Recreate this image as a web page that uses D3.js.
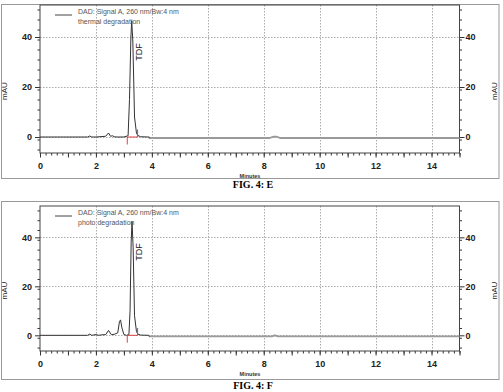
<!DOCTYPE html>
<html><head><meta charset="utf-8">
<script src="https://cdn.jsdelivr.net/npm/d3@7"></script>
<style>body{margin:0;background:#fff;}svg{display:block;}</style>
</head><body>
<svg id="chart" width="503" height="392"></svg>
<script>
// ---- data ----
const xTicks = [0, 2, 4, 6, 8, 10, 12, 14];
const yTicks = [0, 20, 40];
const xDomain = [0, 15];
const yDomain = [-6.4, 52.8];

const timesE = [0, 1.7, 1.78, 1.85, 2.0, 2.35, 2.45, 2.52, 2.6, 2.65, 2.75, 3.0, 3.15, 3.2, 3.25, 3.28, 3.32, 3.38, 3.45, 3.5, 3.6, 3.88, 3.92, 8.2, 8.35, 8.45, 8.6, 15];
const valuesE = [0, 0, 0.4, 0, 0, 0.3, 1.6, 0.3, 0.5, 0.1, 0, 0, 0.5, 15, 40, 46.5, 38, 8, 1.5, 0.6, 0.1, 0, -0.4, -0.4, 0.1, 0.1, -0.4, -0.4];

const timesF = [0, 1.7, 1.78, 1.85, 2.0, 2.1, 2.2, 2.35, 2.45, 2.55, 2.65, 2.78, 2.84, 2.88, 2.93, 3.0, 3.1, 3.18, 3.22, 3.26, 3.29, 3.33, 3.38, 3.45, 3.5, 3.6, 3.88, 3.92, 8.3, 8.4, 8.5, 15];
const valuesF = [0, 0, 0.5, 0, 0.3, 0, 0.2, 0.3, 2.0, 0.3, 0.4, 1.0, 5.5, 6.3, 3, 0.3, 0, 0.3, 10, 38, 46.5, 36, 8, 1.5, 0.5, 0.1, 0, -0.4, -0.4, 0, -0.4, -0.4];

const peakLabel = "TDF";
const peakTime = 3.28;
const peakLabelValue = 34;
const integStart = 3.12, integEnd = 3.49;
const legendTitle = "DAD: Signal A, 260 nm/Bw:4 nm";
const panelNames = ["thermal degradation", "photo degradation"];
const figCaptions = ["FIG. 4: E", "FIG. 4: F"];

// ---- drawing ----
const svg = d3.select("#chart");

function drawPanel(cfg) {
  const g = svg.append("g");
  // outer border
  g.append("rect").attr("x", 1.5).attr("y", cfg.boxTop + 0.5)
    .attr("width", 497.5).attr("height", cfg.boxBottom - cfg.boxTop)
    .attr("fill", "none").attr("stroke", "#999").attr("stroke-width", 1);

  const x = d3.scaleLinear().domain(xDomain).range([40, 459.5]);
  const y = d3.scaleLinear().domain(yDomain).range([cfg.plotBottom, cfg.plotTop]);

  // grid
  g.append("g").selectAll("line").data(xTicks.filter(d => d > 0)).join("line")
    .attr("x1", d => Math.round(x(d)) + 0.5).attr("x2", d => Math.round(x(d)) + 0.5)
    .attr("y1", cfg.plotTop).attr("y2", cfg.plotBottom)
    .attr("stroke", "#aaa").attr("stroke-dasharray", "1.5,1.5");
  g.append("g").selectAll("line").data(yTicks).join("line")
    .attr("x1", x(0)).attr("x2", x(15))
    .attr("y1", d => Math.round(y(d)) + 0.5).attr("y2", d => Math.round(y(d)) + 0.5)
    .attr("stroke", "#aaa").attr("stroke-dasharray", "1.5,1.5");

  // axes
  const minorX = d3.range(0, 15.01, 0.2);
  const minorY = d3.range(-5, 52.8, 4);
  const bottom = g.append("g").attr("transform", `translate(0,${cfg.plotBottom})`);
  bottom.call(d3.axisBottom(x).tickValues(minorX).tickSize(2.5).tickFormat(""));
  bottom.append("g").call(d3.axisBottom(x).tickValues(d3.range(0, 15.01, 1)).tickSize(4.5).tickFormat(d => xTicks.includes(d) ? d : ""));
  bottom.selectAll(".domain").remove();
  bottom.selectAll("text").attr("font-family", "Arial, Liberation Sans, sans-serif")
    .attr("font-size", 9).attr("font-weight", "bold").attr("fill", "#222").attr("dy", "0.95em");

  const left = g.append("g").attr("transform", `translate(40,0)`);
  left.call(d3.axisLeft(y).tickValues(minorY).tickSize(2.5).tickFormat(""));
  left.append("g").call(d3.axisLeft(y).tickValues(yTicks).tickSize(5).tickFormat(d3.format("d")));
  left.selectAll(".domain").remove();
  left.selectAll("text").attr("font-family", "Arial, Liberation Sans, sans-serif")
    .attr("font-size", 9).attr("font-weight", "bold").attr("fill", "#222").attr("x", -8);

  const right = g.append("g").attr("transform", `translate(459.5,0)`);
  right.call(d3.axisRight(y).tickValues(minorY).tickSize(2.5).tickFormat(""));
  right.append("g").call(d3.axisRight(y).tickValues(yTicks).tickSize(5).tickFormat(d3.format("d")));
  right.selectAll(".domain").remove();
  right.selectAll("text").attr("font-family", "Arial, Liberation Sans, sans-serif")
    .attr("font-size", 9).attr("font-weight", "bold").attr("fill", "#222").attr("x", 6);
  g.selectAll(".tick line").attr("stroke", "#333");

  // frame
  g.append("rect").attr("x", 40).attr("y", cfg.plotTop)
    .attr("width", 419.5).attr("height", cfg.plotBottom - cfg.plotTop)
    .attr("fill", "none").attr("stroke", "#444").attr("stroke-width", 1);

  // trace
  const line = d3.line().x(d => x(d[0])).y(d => y(d[1]));
  const pts = cfg.times.map((t, i) => [t, cfg.values[i]]);
  g.append("path").datum(pts.filter(d => d[0] >= 3.88))
    .attr("d", line).attr("fill", "none").attr("stroke", "#9a9a9a").attr("stroke-width", 1.8);
  g.append("path").datum(pts.filter(d => d[0] <= 3.92))
    .attr("d", line).attr("fill", "none").attr("stroke", "#333").attr("stroke-width", 1);

  // integration marks
  g.append("line").attr("x1", x(integStart)).attr("x2", x(integStart))
    .attr("y1", y(0)).attr("y2", y(-3)).attr("stroke", "#e04040").attr("stroke-width", 1);
  g.append("line").attr("x1", x(integStart)).attr("x2", x(integEnd))
    .attr("y1", y(0)).attr("y2", y(0)).attr("stroke", "#e04040").attr("stroke-width", 1);
  g.append("line").attr("x1", x(integEnd)).attr("x2", x(integEnd))
    .attr("y1", y(0)).attr("y2", y(3)).attr("stroke", "#6060d0").attr("stroke-width", 1);

  // peak label
  g.append("text").attr("transform", `translate(${x(peakTime) + 10},${y(peakLabelValue)}) rotate(-90)`)
    .attr("text-anchor", "middle").attr("font-family", "Arial, Liberation Sans, sans-serif")
    .attr("font-size", 9).attr("fill", "#222").text(peakLabel);

  // legend
  g.append("line").attr("x1", 55).attr("x2", 72)
    .attr("y1", cfg.plotTop + 10).attr("y2", cfg.plotTop + 10).attr("stroke", "#444");
  const lt = g.append("text").attr("font-family", "Arial, Liberation Sans, sans-serif")
    .attr("font-size", 7).attr("fill", "#555");
  lt.append("tspan").attr("x", 78).attr("y", cfg.plotTop + 9).text(legendTitle);
  lt.append("tspan").attr("x", 78).attr("y", cfg.plotTop + 19).text(cfg.name);

  // axis titles
  const mid = (cfg.plotTop + cfg.plotBottom) / 2 + 12;
  g.append("text").attr("transform", `translate(7,${mid}) rotate(-90)`)
    .attr("text-anchor", "middle").attr("font-family", "Arial, Liberation Sans, sans-serif")
    .attr("font-size", 8).attr("fill", "#222").text("mAU");
  g.append("text").attr("transform", `translate(497,${mid}) rotate(-90)`)
    .attr("text-anchor", "middle").attr("font-family", "Arial, Liberation Sans, sans-serif")
    .attr("font-size", 8).attr("fill", "#222").text("mAU");
  g.append("text").attr("x", 250).attr("y", cfg.plotBottom + 25)
    .attr("text-anchor", "middle").attr("font-family", "Arial, Liberation Sans, sans-serif")
    .attr("font-size", 5.5).attr("font-weight", "bold").attr("fill", "#333").text("Minutes");

  // caption
  svg.append("text").attr("x", 253).attr("y", cfg.boxBottom + 9.5)
    .attr("text-anchor", "middle").attr("font-family", "Liberation Serif, Times New Roman, serif")
    .attr("font-size", 10).attr("font-weight", "bold").attr("fill", "#000").text(cfg.caption);
}

drawPanel({boxTop: 4, boxBottom: 178, plotTop: 5, plotBottom: 153,
  times: timesE, values: valuesE, name: panelNames[0], caption: figCaptions[0]});
drawPanel({boxTop: 201, boxBottom: 379, plotTop: 206, plotBottom: 351,
  times: timesF, values: valuesF, name: panelNames[1], caption: figCaptions[1]});
</script>
</body></html>
